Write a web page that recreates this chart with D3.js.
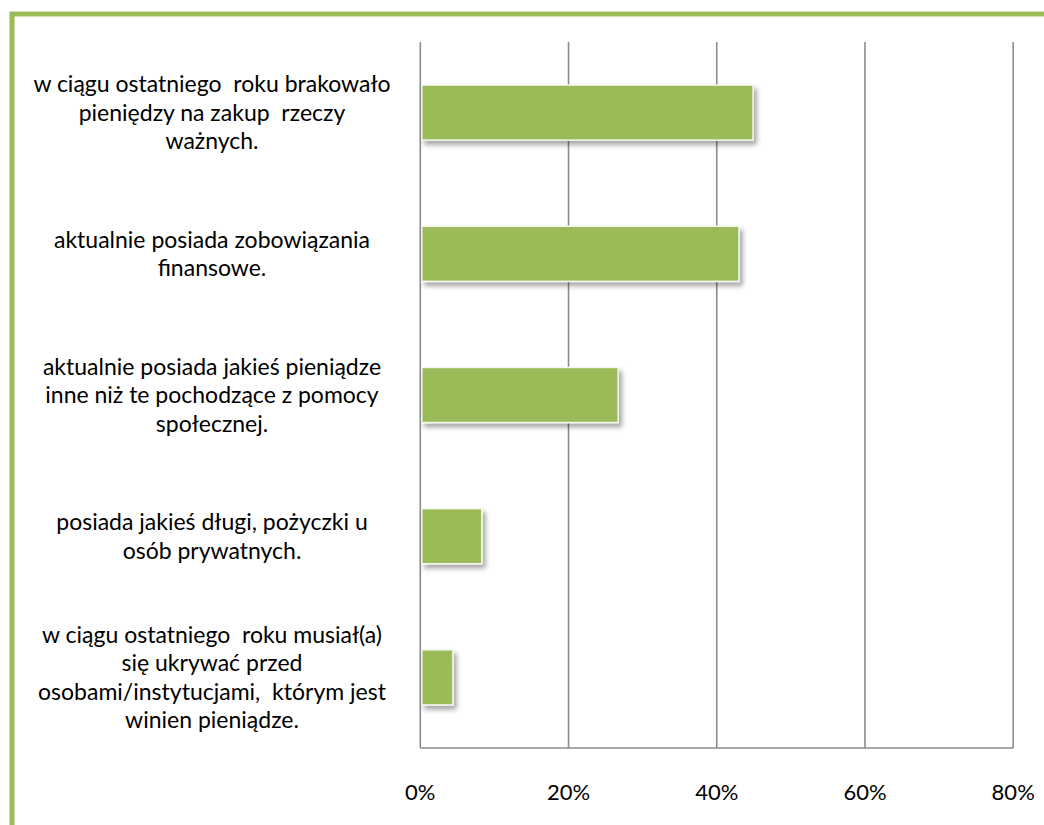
<!DOCTYPE html>
<html>
<head>
<meta charset="utf-8">
<script src="https://cdn.jsdelivr.net/npm/d3@7"></script>
<style>
html,body{margin:0;padding:0;background:#fff;}
svg{display:block;}
</style>
</head>
<body>
<svg id="chart" width="1044" height="825"></svg>
<script>
const categories = [
  ["w ciągu ostatniego  roku brakowało", "pieniędzy na zakup  rzeczy", "ważnych."],
  ["aktualnie posiada zobowiązania", "finansowe."],
  ["aktualnie posiada jakieś pieniądze", "inne niż te pochodzące z pomocy", "społecznej."],
  ["posiada jakieś długi, pożyczki u", "osób prywatnych."],
  ["w ciągu ostatniego  roku musiał(a)", "się ukrywać przed", "osobami/instytucjami,  którym jest", "winien pieniądze."]
];
const values = [44.9, 43.0, 26.7, 8.3, 4.4];
const tickValues = [0, 20, 40, 60, 80];
const tickLabels = ["0%", "20%", "40%", "60%", "80%"];

const svg = d3.select("#chart");
const font = "Lato, 'Open Sans', sans-serif";

// frame border
svg.append("path")
  .attr("d", "M12,825 V14 H1044")
  .attr("fill", "none")
  .attr("stroke", "#9BBB59")
  .attr("stroke-width", 5);

const defs = svg.append("defs");
const f = defs.append("filter").attr("id", "shadow").attr("x", "-20%").attr("y", "-20%").attr("width", "150%").attr("height", "160%");
f.append("feDropShadow").attr("dx", 3).attr("dy", 4).attr("stdDeviation", 2.5).attr("flood-color", "#000").attr("flood-opacity", 0.35);

const x = d3.scaleLinear().domain([0, 80]).range([420.3, 1013.2]);
const y = d3.scaleBand().domain(d3.range(categories.length)).range([42, 748]).paddingInner(0.61).paddingOuter(0.305);

// gridlines
svg.append("g").selectAll("line").data(tickValues).join("line")
  .attr("x1", d => x(d)).attr("x2", d => x(d))
  .attr("y1", 42).attr("y2", 748)
  .attr("stroke", "#8c8c8c").attr("stroke-width", 1.6);

// bottom axis line
svg.append("line").attr("x1", x(0)).attr("x2", x(80)).attr("y1", 748).attr("y2", 748)
  .attr("stroke", "#8c8c8c").attr("stroke-width", 1.6);

// bars
svg.append("g").selectAll("rect").data(values).join("rect")
  .attr("x", x(0) + 1.5)
  .attr("y", (d, i) => y(i))
  .attr("width", d => x(d) - x(0) - 1.5)
  .attr("height", y.bandwidth())
  .attr("fill", "#9BBB59")
  .attr("stroke", "#f4f7ee")
  .attr("stroke-width", 1.5)
  .attr("filter", "url(#shadow)");

// category labels
const lh = 28.5;
const lab = svg.append("g");
categories.forEach((lines, i) => {
  const cy = y(i) + y.bandwidth() / 2;
  const t = lab.append("text")
    .attr("text-anchor", "middle")
    .attr("font-family", font)
    .attr("font-size", 23)
    .attr("fill", "#000")
    .style("white-space", "pre");
  lines.forEach((ln, j) => {
    t.append("tspan")
      .attr("x", 212)
      .attr("y", cy + (j - (lines.length - 1) / 2) * lh)
      .attr("dy", "0.35em")
      .text(ln);
  });
});

// tick labels
svg.append("g").selectAll("text").data(tickValues).join("text")
  .attr("x", d => x(d))
  .attr("y", 792)
  .attr("dy", "0.35em")
  .attr("text-anchor", "middle")
  .attr("font-family", font)
  .attr("font-size", 22)
  .attr("fill", "#000")
  .text((d, i) => tickLabels[i]);
</script>
</body>
</html>
